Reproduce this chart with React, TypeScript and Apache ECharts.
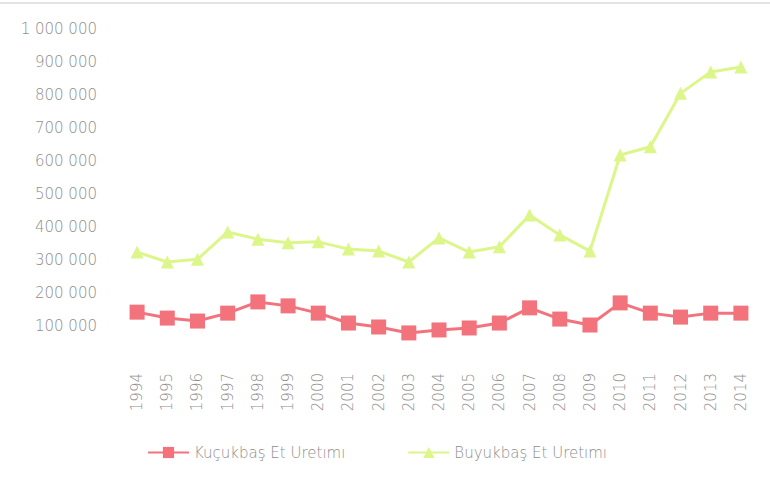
import React, { useEffect, useRef } from "react";
import * as echarts from "echarts";

const years = ["1994","1995","1996","1997","1998","1999","2000","2001","2002","2003","2004","2005","2006","2007","2008","2009","2010","2011","2012","2013","2014"];
const kucukbas = [142000,124000,115000,139000,173000,161000,139000,109000,97000,79000,88000,94000,109000,155000,121000,103000,170000,139000,127000,139000,139000];
const buyukbas = [324000,294000,302000,385000,363000,352000,355000,333000,327000,294000,367000,324000,340000,436000,376000,327000,618000,643000,805000,870000,885000];
const seriesNames = ["Kuçukbaş Et Uretımı", "Buyukbaş Et Uretımı"];

const fmt = (v: number) => (v === 0 ? "" : String(v).replace(/\B(?=(\d{3})+(?!\d))/g, " "));
const FONT = "DejaVu Sans";
const GRAY = "#8e8e8e";

export default function App() {
  const ref = useRef<HTMLDivElement>(null);
  useEffect(() => {
    const chart = echarts.init(ref.current!, null, { renderer: "svg" });
    chart.setOption({
      animation: false,
      backgroundColor: "#ffffff",
      textStyle: { fontFamily: FONT },
      grid: { left: 122, right: 14, top: 29, bottom: 122 },
      legend: {
        left: 142,
        top: 440,
        itemWidth: 41,
        itemHeight: 14,
        itemGap: 62,
        textStyle: { color: GRAY, fontSize: 15, fontFamily: FONT, fontWeight: 200, padding: [0, 0, 0, 0] },
        data: seriesNames,
      },
      xAxis: {
        type: "category",
        data: years,
        boundaryGap: true,
        axisLine: { show: false },
        axisTick: { show: false },
        axisLabel: { rotate: 90, color: GRAY, fontSize: 15, fontFamily: FONT, fontWeight: 200, margin: 14, interval: 0 },
      },
      yAxis: {
        type: "value",
        min: 0,
        max: 1000000,
        interval: 100000,
        splitLine: { show: false },
        axisLine: { show: false },
        axisTick: { show: false },
        axisLabel: { color: GRAY, fontSize: 15, fontFamily: FONT, fontWeight: 200, margin: 25, formatter: fmt },
      },
      graphic: [
        { type: "line", shape: { x1: 0, y1: 3, x2: 770, y2: 3 }, style: { stroke: "#c8c8c8", lineWidth: 1 } },
      ],
      series: [
        {
          name: seriesNames[0],
          type: "line",
          data: kucukbas,
          symbol: "rect",
          symbolSize: 15,
          itemStyle: { color: "#f2737c" },
          lineStyle: { color: "#f2737c", width: 3 },
        },
        {
          name: seriesNames[1],
          type: "line",
          data: buyukbas,
          symbol: "triangle",
          symbolSize: 13,
          itemStyle: { color: "#dcf68a" },
          lineStyle: { color: "#dcf68a", width: 3 },
        },
      ],
    });
    return () => chart.dispose();
  }, []);
  return <div ref={ref} style={{ width: 770, height: 481, position: "absolute", left: 0, top: 0 }} />;
}
